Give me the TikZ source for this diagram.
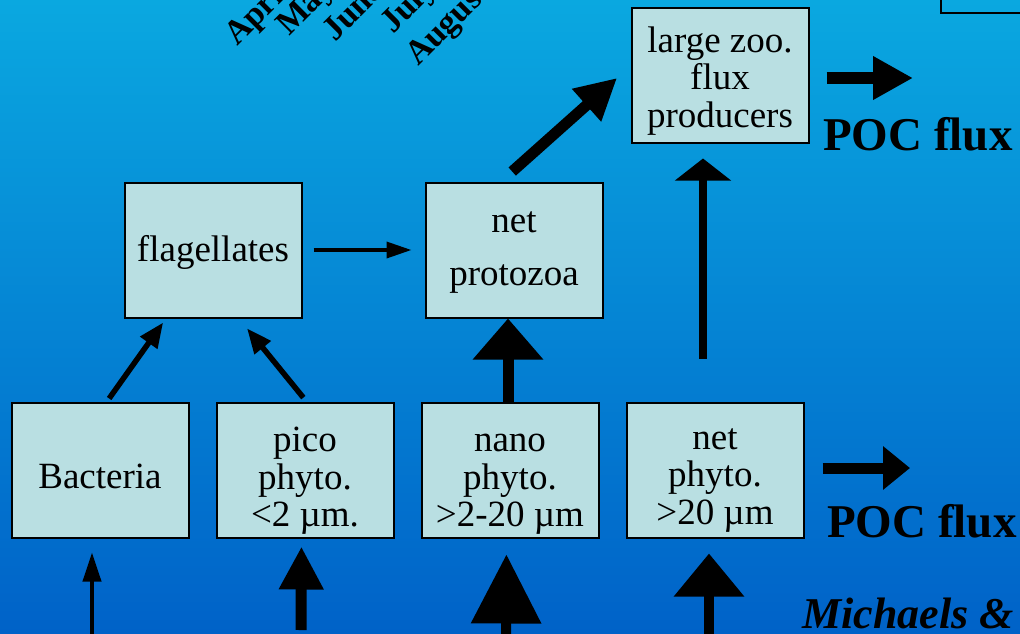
\documentclass[tikz,border=0pt]{standalone}
\usepackage{fontspec}
\setmainfont{Liberation Serif}
\usetikzlibrary{arrows.meta,positioning}
\definecolor{boxfill}{RGB}{185,223,226}
\definecolor{skytop}{RGB}{10,168,224}
\definecolor{skybot}{RGB}{0,98,200}
\newcommand\lift[1]{\rule{0pt}{#1}}

\begin{document}
\begin{tikzpicture}[x=1pt,y=-1pt,node distance=205pt,on grid,
   box/.style={draw,line width=2pt,fill=boxfill,minimum width=177pt,minimum height=135pt,
     inner sep=0pt,align=center,font=\fontsize{37}{37.5}\selectfont},
   month/.style={anchor=base west,rotate=45,inner sep=0pt,font=\bfseries\fontsize{34}{34}\selectfont},
   poc/.style={anchor=base west,inner sep=0pt,font=\bfseries\fontsize{47}{47}\selectfont},
   arr/.style n args={3}{draw,line width=#1,-{Triangle[width=#2,length=#3]}}]
   \fill[top color=skytop,bottom color=skybot] (0,0) rectangle (1020,633);
   \useasboundingbox (0,0) rectangle (1020,633);
   \clip (0,0) rectangle (1020,633);

   % months (cut off by the top edge)
   \node[month] (apr) at (237,47) {April};
   \node[month] (may) at (289,37) {May};
   \node[month] (jun) at (335,43) {June};
   \node[month] (jul) at (393,35) {July};
   \node[month] (aug) at (418,67) {August};
   \draw[line width=2pt] (941,-20) rectangle (1040,13);

   \node[box] (bact) at (100,470) {\lift{38pt}Bacteria};
   \node[box] (pico) [right=of bact] {\lift{46pt}pico\\phyto.\\<2 µm.};
   \node[box] (nano) [right=of pico] {\lift{46pt}nano\\phyto.\\>2-20 µm};
   \node[box] (phyto) [right=of nano] {\lift{41pt}net\\phyto.\\>20 µm};
   \node[box] (flag) [above right=220pt and 113pt of bact] {\lift{30pt}flagellates};
   \node[box] (proto) [right=301pt of flag] {\lift{26pt}net\\[15pt]protozoa};
   \node[box] (zoo) [above right=175pt and 206pt of proto] {\lift{37pt}large zoo.\\flux\\producers};

   \node[poc] (poc1) at (823,150) {POC flux};
   \node[poc] (poc2) at (827,537) {POC flux};
   \node[anchor=base west,inner sep=0pt,font=\bfseries\itshape\fontsize{44}{44}\selectfont]
     (cite) at (802,628) {Michaels \&};

   \coordinate (out1) at (913,78);
   \coordinate (out2) at (910,468);
   \coordinate (src1) at (92,650);
   \coordinate (src2) at (301,630);
   \coordinate (src3) at (506,650);
   \coordinate (src4) at (709,650);

   \path
    (flag) edge[arr={3.5pt}{16pt}{25pt},shorten <=11pt,shorten >=13pt] (proto)
    ([xshift=7pt]bact.north) edge[arr={5.5pt}{20pt}{25pt},shorten <=3.7pt,shorten >=4.9pt] ([xshift=-47pt]flag.south)
    ([xshift=1.5pt]pico.north) edge[arr={5.5pt}{20pt}{25pt},shorten <=5pt,shorten >=12.7pt] ([xshift=26pt]flag.south)
    ([xshift=-2pt]nano.north) edge[arr={11pt}{68pt}{41pt}] ([xshift=-2pt]nano.north |- proto.south)
    ([xshift=-12pt]phyto.north) edge[arr={7.5pt}{55pt}{22pt},shorten <=43pt,shorten >=15pt] ([xshift=-12pt]phyto.north |- zoo.south)
    ([xshift=-13pt]proto.north) edge[arr={11pt}{41pt}{41pt},shorten <=15pt,shorten >=18pt] ([yshift=9pt]zoo.west)
    ([xshift=17pt,yshift=-3pt]zoo.east) edge[arr={12pt}{41pt}{40pt}] (out1)
    ([xshift=18pt,yshift=2pt]phyto.east) edge[arr={11pt}{42pt}{27pt}] (out2)
    (src1) edge[arr={4pt}{18pt}{29pt},shorten >=14pt] ([xshift=-8pt]bact.south)
    (src2) edge[arr={11pt}{42pt}{43pt},shorten >=8pt] ([xshift=-3.5pt]pico.south)
    (src3) edge[arr={10pt}{68pt}{69pt},shorten >=16pt] ([xshift=-3.5pt]nano.south)
    (src4) edge[arr={10pt}{68pt}{43pt},shorten >=15pt] ([xshift=-6pt]phyto.south);
\end{tikzpicture}
\end{document}
